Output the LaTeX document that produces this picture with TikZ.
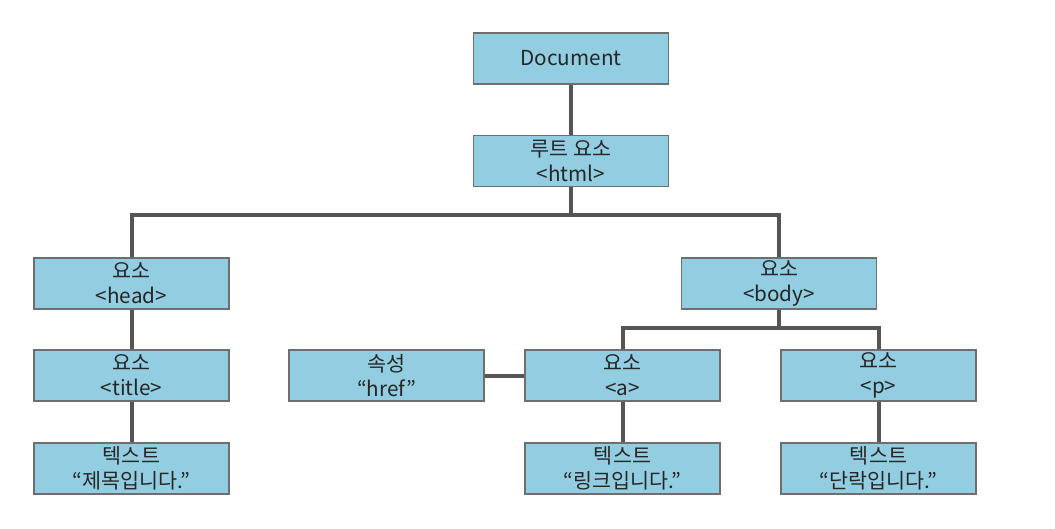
\documentclass[tikz,border=0pt]{standalone}
\usepackage{fontspec}
\setmainfont{Noto Sans CJK KR}
\usepackage{tikz}
\usetikzlibrary{positioning}
\definecolor{boxfill}{HTML}{92CDE1}
\definecolor{boxedge}{HTML}{6E6E6E}
\definecolor{wire}{HTML}{555555}
\definecolor{ink}{HTML}{262626}

\begin{document}
\begin{tikzpicture}[x=0.75pt,y=-0.75pt,
  domnode/.style={draw=boxedge,line width=1.1pt,fill=boxfill,text=ink,
    minimum width=146pt,minimum height=38pt,inner sep=0pt,align=center,
    font=\fontsize{15.5pt}{18.5pt}\selectfont},
  link/.style={draw=wire,line width=3pt}]
  \useasboundingbox (0,0) rectangle (1055,528);
  % tree nodes
  \node[domnode] (doc)   at (571,58.5)    {Document};
  \node[domnode] (html)  at (571,161)     {루트 요소\\<html>};
  \node[domnode] (head)  at (131.5,283.5) {요소\\<head>};
  \node[domnode] (body)  at (779,283.5)   {요소\\<body>};
  \node[domnode] (title) at (131.5,375.5) {요소\\<title>};
  \node[domnode] (ttext) at (131.5,468.5) {텍스트\\“제목입니다.”};
  \node[domnode] (href)  at (386.5,375.5) {속성\\“href”};
  \node[domnode] (anode) at (622.5,375.5) {요소\\<a>};
  \node[domnode] (atext) at (622.5,468.5) {텍스트\\“링크입니다.”};
  \node[domnode] (pnode) at (878.5,375.5) {요소\\<p>};
  \node[domnode] (ptext) at (878.5,468.5) {텍스트\\“단락입니다.”};
  % connectors
  \draw[link] (doc) -- (html);
  \draw[link] (html.south) -- ++(0,28) -| (head.north);
  \draw[link] (html.south) -- ++(0,28) -| (body.north);
  \draw[link] (head) -- (title);
  \draw[link] (title) -- (ttext);
  \draw[link] (body.south) -- ++(0,18) -| (anode.north);
  \draw[link] (body.south) -- ++(0,18) -| (pnode.north);
  \draw[link] (href) -- (anode);
  \draw[link] (anode) -- (atext);
  \draw[link] (pnode) -- (ptext);
\end{tikzpicture}
\end{document}
